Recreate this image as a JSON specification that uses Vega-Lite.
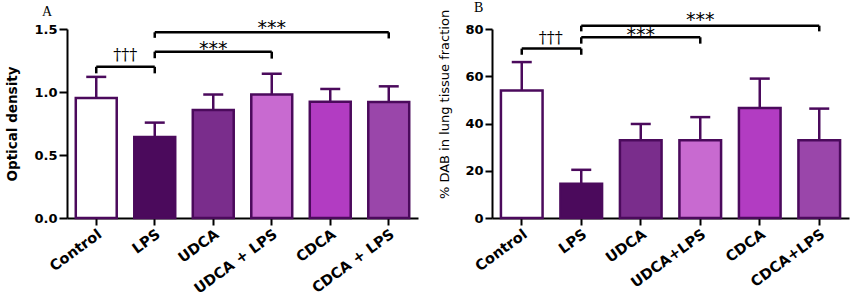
{
  "$schema": "https://vega.github.io/schema/vega-lite/v6.json",
  "padding": {"left": 5, "right": 10, "top": 1, "bottom": 0},
  "spacing": 20,
  "background": "white",
  "config": {"view": {"stroke": null}},
  "datasets": {
    "odA": [
      {"group": "Control", "value": 0.952, "upper": 1.12},
      {"group": "LPS", "value": 0.643, "upper": 0.757},
      {"group": "UDCA", "value": 0.857, "upper": 0.98},
      {"group": "UDCA + LPS", "value": 0.98, "upper": 1.145},
      {"group": "CDCA", "value": 0.923, "upper": 1.024},
      {"group": "CDCA + LPS", "value": 0.92, "upper": 1.045}
    ],
    "bracketsA": [
      {"from": "Control", "to": "LPS", "y": 1.2, "yl": 1.148, "yr": 1.148},
      {"from": "LPS", "to": "UDCA + LPS", "y": 1.32, "yl": 1.268, "yr": 1.265},
      {"from": "LPS", "to": "CDCA + LPS", "y": 1.474, "yl": 1.43, "yr": 1.425}
    ],
    "textA": [
      {"label": "†††", "at": "Control", "ty": 1.254},
      {"label": "***", "at": "UDCA", "ty": 1.292},
      {"label": "***", "at": "UDCA + LPS", "ty": 1.46}
    ],
    "dabB": [
      {"group": "Control", "value": 54.0, "upper": 66.0},
      {"group": "LPS", "value": 14.5, "upper": 20.4},
      {"group": "UDCA", "value": 32.9, "upper": 39.8},
      {"group": "UDCA+LPS", "value": 32.9, "upper": 42.7},
      {"group": "CDCA", "value": 46.6, "upper": 59.0},
      {"group": "CDCA+LPS", "value": 32.9, "upper": 46.3}
    ],
    "bracketsB": [
      {"from": "Control", "to": "LPS", "y": 71.7, "yl": 69.1, "yr": 69.1},
      {"from": "LPS", "to": "UDCA+LPS", "y": 76.5, "yl": 73.8, "yr": 73.8},
      {"from": "LPS", "to": "CDCA+LPS", "y": 81.4, "yl": 79.0, "yr": 79.0}
    ],
    "textB": [
      {"label": "†††", "at": "Control", "ty": 74.0},
      {"label": "***", "at": "UDCA", "ty": 74.9},
      {"label": "***", "at": "UDCA+LPS", "ty": 81.3}
    ]
  },
  "hconcat": [
    {
      "width": 351,
      "height": 189,
      "title": {"text": "A", "anchor": "start", "font": "Liberation Serif", "fontSize": 14, "fontWeight": "normal", "color": "black", "dx": 36, "offset": 0},
      "encoding": {
        "x": {
          "field": "group", "type": "nominal", "title": null,
          "scale": {"domain": ["Control", "LPS", "UDCA", "UDCA + LPS", "CDCA", "CDCA + LPS"], "paddingInner": 0.3, "paddingOuter": 0.15},
          "axis": {"labelAngle": -36, "labelFont": "DejaVu Sans", "labelFontWeight": "bold", "labelFontSize": 14.5, "labelColor": "black", "domainColor": "black", "domainWidth": 2, "tickColor": "black", "tickWidth": 2, "tickSize": 7, "labelPadding": 2}
        }
      },
      "layer": [
        {
          "data": {"name": "odA"},
          "mark": {"type": "bar", "stroke": "#4b0a5c", "strokeWidth": 2.5},
          "encoding": {
            "y": {
              "field": "value", "type": "quantitative",
              "scale": {"domain": [0, 1.5], "nice": false, "zero": true},
              "axis": {"values": [0, 0.5, 1, 1.5], "format": ".1f", "grid": false, "title": "Optical density", "titleFont": "DejaVu Sans", "titleFontSize": 13.5, "titleFontWeight": "bold", "titleColor": "black", "titlePadding": 14, "labelFont": "DejaVu Sans", "labelFontWeight": "bold", "labelFontSize": 13, "labelColor": "black", "labelPadding": 2, "tickSize": 8, "tickWidth": 2, "tickColor": "black", "domainColor": "black", "domainWidth": 2}
            },
            "fill": {
              "field": "group", "type": "nominal", "legend": null,
              "scale": {"domain": ["Control", "LPS", "UDCA", "UDCA + LPS", "CDCA", "CDCA + LPS"], "range": ["#ffffff", "#4b0a5c", "#7a2d8c", "#c86ad0", "#b23cc2", "#9a46aa"]}
            }
          }
        },
        {
          "data": {"name": "odA"},
          "mark": {"type": "rule", "strokeWidth": 2.5, "color": "#4b0a5c"},
          "encoding": {"y": {"field": "value", "type": "quantitative"}, "y2": {"field": "upper"}}
        },
        {
          "data": {"name": "odA"},
          "mark": {"type": "tick", "orient": "horizontal", "size": 20, "thickness": 2.5, "color": "#4b0a5c", "opacity": 1},
          "encoding": {"y": {"field": "upper", "type": "quantitative"}}
        },
        {
          "data": {"name": "bracketsA"},
          "mark": {"type": "rule", "strokeWidth": 2.5, "color": "black"},
          "encoding": {"x": {"field": "from", "type": "nominal"}, "x2": {"field": "to"}, "y": {"field": "y", "type": "quantitative"}}
        },
        {
          "data": {"name": "bracketsA"},
          "mark": {"type": "rule", "strokeWidth": 2.5, "color": "black"},
          "encoding": {"x": {"field": "from", "type": "nominal"}, "y": {"field": "y", "type": "quantitative"}, "y2": {"field": "yl"}}
        },
        {
          "data": {"name": "bracketsA"},
          "mark": {"type": "rule", "strokeWidth": 2.5, "color": "black"},
          "encoding": {"x": {"field": "to", "type": "nominal"}, "y": {"field": "y", "type": "quantitative"}, "y2": {"field": "yr"}}
        },
        {
          "data": {"name": "textA"},
          "transform": [{"filter": "datum.label === '***'"}],
          "mark": {"type": "text", "font": "DejaVu Sans", "fontSize": 19, "baseline": "alphabetic", "align": "center", "color": "black"},
          "encoding": {"x": {"field": "at", "type": "nominal"}, "y": {"field": "ty", "type": "quantitative"}, "text": {"field": "label"}}
        },
        {
          "data": {"name": "textA"},
          "transform": [{"filter": "datum.label !== '***'"}],
          "mark": {"type": "text", "font": "DejaVu Serif", "fontSize": 16, "baseline": "alphabetic", "align": "center", "color": "black", "dx": 29},
          "encoding": {"x": {"field": "at", "type": "nominal"}, "y": {"field": "ty", "type": "quantitative"}, "text": {"field": "label"}}
        }
      ]
    },
    {
      "width": 357,
      "height": 189,
      "title": {"text": "B", "anchor": "start", "font": "Liberation Serif", "fontSize": 14, "fontWeight": "normal", "color": "black", "dx": 35, "offset": -6},
      "encoding": {
        "x": {
          "field": "group", "type": "nominal", "title": null,
          "scale": {"domain": ["Control", "LPS", "UDCA", "UDCA+LPS", "CDCA", "CDCA+LPS"], "paddingInner": 0.3, "paddingOuter": 0.15},
          "axis": {"labelAngle": -36, "labelFont": "DejaVu Sans", "labelFontWeight": "bold", "labelFontSize": 14.5, "labelColor": "black", "domainColor": "black", "domainWidth": 2, "tickColor": "black", "tickWidth": 2, "tickSize": 7, "labelPadding": 2}
        }
      },
      "layer": [
        {
          "data": {"name": "dabB"},
          "mark": {"type": "bar", "stroke": "#4b0a5c", "strokeWidth": 2.5},
          "encoding": {
            "y": {
              "field": "value", "type": "quantitative",
              "scale": {"domain": [0, 80], "nice": false, "zero": true},
              "axis": {"values": [0, 20, 40, 60, 80], "grid": false, "title": "% DAB in lung tissue fraction", "titleFont": "DejaVu Sans", "titleFontSize": 13, "titleFontWeight": "normal", "titleColor": "black", "titlePadding": 13, "titleY": 75, "labelFont": "DejaVu Sans", "labelFontWeight": "bold", "labelFontSize": 13, "labelColor": "black", "labelPadding": 2, "tickSize": 7, "tickWidth": 2, "tickColor": "black", "domainColor": "black", "domainWidth": 2}
            },
            "fill": {
              "field": "group", "type": "nominal", "legend": null,
              "scale": {"domain": ["Control", "LPS", "UDCA", "UDCA+LPS", "CDCA", "CDCA+LPS"], "range": ["#ffffff", "#4b0a5c", "#7a2d8c", "#c86ad0", "#b23cc2", "#9a46aa"]}
            }
          }
        },
        {
          "data": {"name": "dabB"},
          "mark": {"type": "rule", "strokeWidth": 2.5, "color": "#4b0a5c"},
          "encoding": {"y": {"field": "value", "type": "quantitative"}, "y2": {"field": "upper"}}
        },
        {
          "data": {"name": "dabB"},
          "mark": {"type": "tick", "orient": "horizontal", "size": 20, "thickness": 2.5, "color": "#4b0a5c", "opacity": 1},
          "encoding": {"y": {"field": "upper", "type": "quantitative"}}
        },
        {
          "data": {"name": "bracketsB"},
          "mark": {"type": "rule", "strokeWidth": 2.5, "color": "black"},
          "encoding": {"x": {"field": "from", "type": "nominal"}, "x2": {"field": "to"}, "y": {"field": "y", "type": "quantitative"}}
        },
        {
          "data": {"name": "bracketsB"},
          "mark": {"type": "rule", "strokeWidth": 2.5, "color": "black"},
          "encoding": {"x": {"field": "from", "type": "nominal"}, "y": {"field": "y", "type": "quantitative"}, "y2": {"field": "yl"}}
        },
        {
          "data": {"name": "bracketsB"},
          "mark": {"type": "rule", "strokeWidth": 2.5, "color": "black"},
          "encoding": {"x": {"field": "to", "type": "nominal"}, "y": {"field": "y", "type": "quantitative"}, "y2": {"field": "yr"}}
        },
        {
          "data": {"name": "textB"},
          "transform": [{"filter": "datum.label === '***'"}],
          "mark": {"type": "text", "font": "DejaVu Sans", "fontSize": 19, "baseline": "alphabetic", "align": "center", "color": "black"},
          "encoding": {"x": {"field": "at", "type": "nominal"}, "y": {"field": "ty", "type": "quantitative"}, "text": {"field": "label"}}
        },
        {
          "data": {"name": "textB"},
          "transform": [{"filter": "datum.label !== '***'"}],
          "mark": {"type": "text", "font": "DejaVu Serif", "fontSize": 16, "baseline": "alphabetic", "align": "center", "color": "black", "dx": 29},
          "encoding": {"x": {"field": "at", "type": "nominal"}, "y": {"field": "ty", "type": "quantitative"}, "text": {"field": "label"}}
        }
      ]
    }
  ],
  "resolve": {"scale": {"x": "independent", "y": "independent", "fill": "independent"}}
}
